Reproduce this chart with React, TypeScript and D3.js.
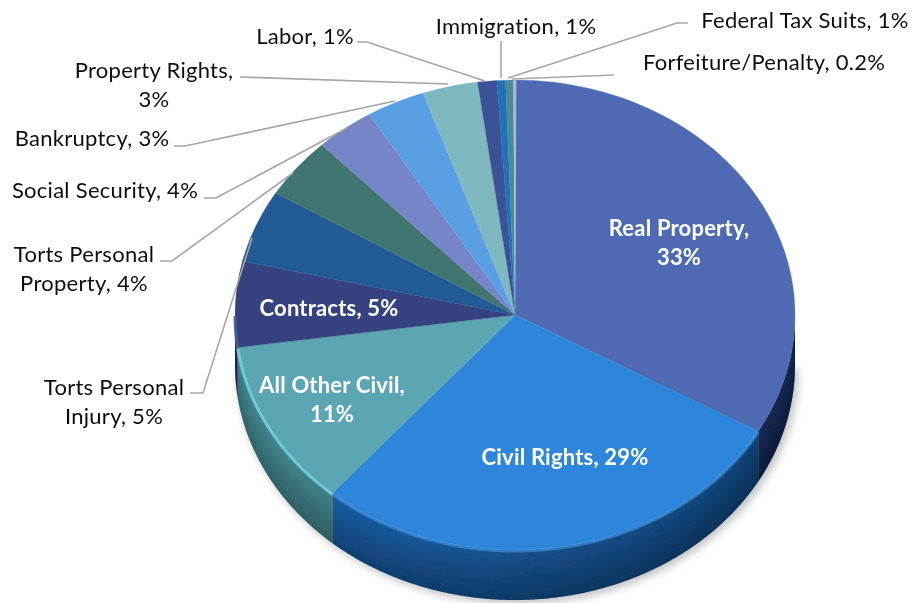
import React from "react";
import * as d3 from "d3";

const categories = ["Real Property","Civil Rights","All Other Civil","Contracts","Torts Personal Injury","Torts Personal Property","Social Security","Bankruptcy","Property Rights","Labor","Immigration","Federal Tax Suits","Forfeiture/Penalty"];
const values = [33.2,28.1,11.5,5.9,5.0,4.2,3.4,3.4,3.2,1.1,0.5,0.45,0.15];
const faceColors = ["#4f6bb2","#2e86dc","#5ba5b2","#34437f","#225a96","#3f7472","#7485c7","#5a9fe3","#7fb8c0","#3a5296","#2170b8","#4b8c94","#a5b8dd"];
const wallColors = ["#1f3a78","#1a62ad","#458a93","#26305f","#1a4472","#2e5654","#556299","#4078b0","#5e8a90","#2a3c70","#18548a","#386a70","#7a8aa5"];
const rimColors = ["#5f7bc4","#4a9fee","#74d4e2","#4a5a9a","#3a78b8","#5a9490","#8a9bd8","#78b8f0","#98d0d8","#5068ac","#3a8cd0","#68a8b0","#c0d0ee"];

const outsideLabels = [
  {lines:["Federal Tax Suits, 1%"],x:805,y:20},
  {lines:["Forfeiture/Penalty, 0.2%"],x:764,y:62},
  {lines:["Immigration, 1%"],x:516,y:26},
  {lines:["Labor, 1%"],x:305,y:36},
  {lines:["Property Rights,","3%"],x:154,y:70},
  {lines:["Bankruptcy, 3%"],x:92,y:138},
  {lines:["Social Security, 4%"],x:105,y:190},
  {lines:["Torts Personal","Property, 4%"],x:84,y:254},
  {lines:["Torts Personal","Injury, 5%"],x:114,y:387},
];
const insideLabels = [
  {lines:["Real Property,","33%"],x:679,y:228},
  {lines:["Contracts, 5%"],x:329,y:308},
  {lines:["All Other Civil,","11%"],x:332,y:385},
  {lines:["Civil Rights, 29%"],x:565,y:457},
];
const leaders: [number,number][][] = [
  [[688,23],[677,23],[508,78]],
  [[614,75],[512,79]],
  [[501,41],[501,78]],
  [[357,42],[367,42],[485,81]],
  [[240,77],[448,84]],
  [[174,146],[185,146],[395,101]],
  [[204,198],[216,198],[347,128]],
  [[160,261],[172,261],[293,173]],
  [[190,393],[203,393],[252,238]],
];

const cx = 515, cy = 315, rx = 280, ry = 235, depth = 50;

const pie = d3.pie<number>().sort(null).startAngle(0.004).endAngle(Math.PI*2+0.004);
const arcs = pie(values);
const arcGen = d3.arc<d3.PieArcDatum<number>>().innerRadius(0).outerRadius(rx);
const line = d3.line<[number,number]>();
const linear = d3.line<[number,number]>().curve(d3.curveLinear);

const pt = (t:number, dy=0):[number,number] => [cx+rx*Math.sin(t), cy-ry*Math.cos(t)+dy];
const samples = (a:number,b:number,dy=0) => {
  const n = Math.max(2, Math.ceil((b-a)/0.01));
  return d3.range(n+1).map(i => pt(a+(b-a)*i/n, dy));
};
const visible = arcs.map(a => {
  const s = Math.max(a.startAngle, Math.PI/2), e = Math.min(a.endAngle, 3*Math.PI/2);
  return e > s ? {s,e} : null;
});
const darkX = d3.scaleLinear().domain([cx-rx,cx+rx]).range([0,0.32]);
const BAND = 2;
const layers = d3.range(0, depth, BAND);
const HALF = [Math.PI/2, 3*Math.PI/2];

function Labels({items, fill, weight, ls}:{items:typeof insideLabels; fill:string; weight:number; ls:number}){
  return <>{items.map((l,i)=>l.lines.map((t,j)=>(
    <text key={i+"-"+j} x={l.x} y={l.y+j*29} dy="0.35em" textAnchor="middle" fill={fill} fontWeight={weight} fontSize={22} letterSpacing={ls} fontFamily="Lato, 'Open Sans', sans-serif">{t}</text>
  )))}</>;
}

export default function App(){
  return (
    <svg width={914} height={603} style={{position:"absolute",left:0,top:0,background:"#fff"}}>
      <defs>
        <filter id="shadow" x="-20%" y="-20%" width="140%" height="140%"><feGaussianBlur stdDeviation="5"/></filter>
        <filter id="soft" x="-5%" y="-5%" width="110%" height="110%"><feGaussianBlur stdDeviation="0.45"/></filter>
        <linearGradient id="sideDark" gradientUnits="userSpaceOnUse" x1={cx-rx} x2={cx+rx} y1={0} y2={0}>
          <stop offset="0" stopColor="#000" stopOpacity={darkX(cx-rx)}/>
          <stop offset="0.5" stopColor="#000" stopOpacity={0.18}/>
          <stop offset="1" stopColor="#000" stopOpacity={darkX(cx+rx)}/>
        </linearGradient>
      </defs>
      <path d={linear(samples(HALF[0],HALF[1],depth+3).map(([x,y])=>[x+3,y] as [number,number]))+"Z"} fill="#777" opacity={0.5} filter="url(#shadow)"/>
      <g filter="url(#soft)">
        {visible.map((v,i)=> v && (
          <path key={i} fill={wallColors[i]} d={linear([...samples(v.s,v.e,0),...samples(v.s,v.e,depth).reverse()])+"Z"}/>
        ))}
        <path fill="url(#sideDark)" d={linear([...samples(HALF[0],HALF[1],0),...samples(HALF[0],HALF[1],depth).reverse()])+"Z"}/>
        {layers.map(k => (
          <path key={k} fill="#000" fillOpacity={0.3*k/depth} d={linear([...samples(HALF[0],HALF[1],k),...samples(HALF[0],HALF[1],k+BAND).reverse()])+"Z"}/>
        ))}
        <g transform={`translate(${cx},${cy}) scale(1,${ry/rx})`}>
          {arcs.map((a,i)=>(
            <path key={i} d={arcGen(a) ?? ""} fill={faceColors[i]} stroke={faceColors[i]} strokeWidth={0.3}/>
          ))}
        </g>
        {visible.map((v,i)=> v && i>0 && (
          <path key={i} d={line(samples(v.s,v.e,1)) ?? ""} fill="none" stroke={rimColors[i]} strokeWidth={3} strokeOpacity={i===1?0.55:0.85}/>
        ))}
        {leaders.map((pts,i)=>(
          <path key={i} d={linear(pts) ?? ""} fill="none" stroke="#a6a6a6" strokeWidth={1.6}/>
        ))}
        <Labels items={outsideLabels} fill="#111" weight={400} ls={0.28}/>
        <Labels items={insideLabels} fill="#fff" weight={700} ls={0.2}/>
      </g>
    </svg>
  );
}
